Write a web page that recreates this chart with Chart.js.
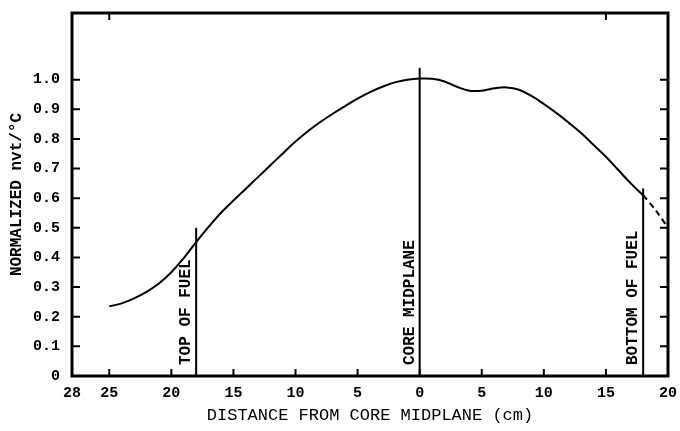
<!DOCTYPE html>
<html>
<head>
<meta charset="utf-8">
<script src="https://cdn.jsdelivr.net/npm/chart.js@4.4.1/dist/chart.umd.min.js"></script>
<style>
    body { margin: 0; background: #fff; }
    #wrap { width: 680px; height: 431px; position: relative; }
</style>
</head>
<body>
<div id="wrap"><canvas id="fluxChart"></canvas></div>
<script>
// distance from core midplane (cm), negative = toward top of fuel
const distance = [-25, -24, -23, -22, -21, -20, -19, -18, -17, -16, -15, -14, -13, -12, -11, -10, -9, -8, -7, -6, -5, -4, -3, -2, -1,
    0, 1, 2, 3, 4, 5, 6, 7, 8, 9, 10, 11, 12, 13, 14, 15, 16, 17, 18];
const normalized = [0.235, 0.245, 0.262, 0.284, 0.312, 0.350, 0.398, 0.452, 0.503, 0.551, 0.592, 0.632, 0.672, 0.712, 0.752, 0.791, 0.826, 0.857, 0.885, 0.911, 0.936, 0.958, 0.976, 0.991, 1.0,
    1.004, 1.003, 0.994, 0.976, 0.963, 0.963, 0.971, 0.974, 0.966, 0.945, 0.918, 0.888, 0.855, 0.82, 0.78, 0.74, 0.695, 0.65, 0.61];

// extrapolated (dashed) part below the fuel
const dashDistance = [18, 19, 20];
const dashNormalized = [0.61, 0.56, 0.50];

// vertical reference lines
const markerPos = [-18, 0, 18];
const markerTop = [0.5, 1.04, 0.633];
const markerText = ['TOP OF FUEL', 'CORE MIDPLANE', 'BOTTOM OF FUEL'];

const xTicks = [-28, -25, -20, -15, -10, -5, 0, 5, 10, 15, 20];
const yTicks = [0, 0.1, 0.2, 0.3, 0.4, 0.5, 0.6, 0.7, 0.8, 0.9, 1.0];
const topTicks = [-25, 15];

const toPoints = (xs, ys) => xs.map((v, i) => ({ x: v, y: ys[i] }));

const markerSets = markerPos.map((pos, i) => ({
    data: [{ x: pos, y: 0 }, { x: pos, y: markerTop[i] }],
    borderColor: '#000',
    borderWidth: 2,
    pointRadius: 0,
    tension: 0
}));

const framePlugin = {
    id: 'frame',
    afterDatasetsDraw(chart) {
        const { ctx, chartArea: a, scales: { x, y } } = chart;
        ctx.save();
        ctx.strokeStyle = '#000';
        ctx.lineWidth = 3;
        ctx.strokeRect(a.left, a.top, a.right - a.left, a.bottom - a.top);

        ctx.lineWidth = 2;
        ctx.beginPath();
        yTicks.slice(1).forEach(v => {
            const py = y.getPixelForValue(v);
            ctx.moveTo(a.left, py);
            ctx.lineTo(a.left + 8, py);
            ctx.moveTo(a.right, py);
            ctx.lineTo(a.right - 8, py);
        });
        xTicks.slice(1, -1).forEach(v => {
            const px = x.getPixelForValue(v);
            ctx.moveTo(px, a.bottom);
            ctx.lineTo(px, a.bottom - 7);
        });
        topTicks.forEach(v => {
            const px = x.getPixelForValue(v);
            ctx.moveTo(px, a.top);
            ctx.lineTo(px, a.top + 7);
        });
        ctx.stroke();

        ctx.fillStyle = '#000';
        ctx.font = 'bold 16px "Liberation Mono"';
        ctx.textAlign = 'left';
        ctx.textBaseline = 'middle';
        markerPos.forEach((pos, i) => {
            ctx.save();
            ctx.translate(x.getPixelForValue(pos) - 10, a.bottom - 11);
            ctx.rotate(-Math.PI / 2);
            ctx.fillText(markerText[i], 0, 0);
            ctx.restore();
        });
        ctx.restore();
    }
};

new Chart(document.getElementById('fluxChart'), {
    type: 'line',
    data: {
        datasets: [
            {
                data: toPoints(distance, normalized),
                borderColor: '#000',
                borderWidth: 2,
                pointRadius: 0,
                tension: 0.4
            },
            {
                data: toPoints(dashDistance, dashNormalized),
                borderColor: '#000',
                borderWidth: 2,
                borderDash: [6, 4],
                pointRadius: 0,
                tension: 0.3
            },
            ...markerSets
        ]
    },
    options: {
        responsive: true,
        maintainAspectRatio: false,
        animation: false,
        layout: { padding: { top: 9, right: 12, left: 0, bottom: 0 } },
        plugins: {
            legend: { display: false },
            tooltip: { enabled: false }
        },
        scales: {
            x: {
                type: 'linear',
                min: -28,
                max: 20,
                afterBuildTicks: scale => { scale.ticks = xTicks.map(v => ({ value: v })); },
                afterFit: scale => { scale.height = 55; },
                grid: { display: false },
                border: { display: false },
                ticks: {
                    padding: 0,
                    color: '#000',
                    font: { family: 'Liberation Mono', size: 15, weight: 'bold' },
                    callback: v => String(Math.abs(v))
                },
                title: {
                    display: true,
                    text: 'DISTANCE FROM CORE MIDPLANE (cm)',
                    color: '#000',
                    font: { family: 'Liberation Mono', size: 17 },
                    padding: { top: 0, bottom: 5 }
                }
            },
            y: {
                min: 0,
                max: 1.225,
                afterBuildTicks: scale => { scale.ticks = yTicks.map(v => ({ value: v })); },
                afterFit: scale => { scale.width = 72; },
                grid: { display: false },
                border: { display: false },
                ticks: {
                    padding: 4,
                    color: '#000',
                    font: { family: 'Liberation Mono', size: 15, weight: 'bold' },
                    callback: v => v === 0 ? '0' : v.toFixed(1)
                },
                title: {
                    display: true,
                    text: 'NORMALIZED nvt/°C',
                    color: '#000',
                    font: { family: 'Liberation Mono', size: 16, weight: 'bold' },
                    padding: { top: 7, bottom: 0 }
                }
            }
        }
    },
    plugins: [framePlugin]
});
</script>
</body>
</html>
